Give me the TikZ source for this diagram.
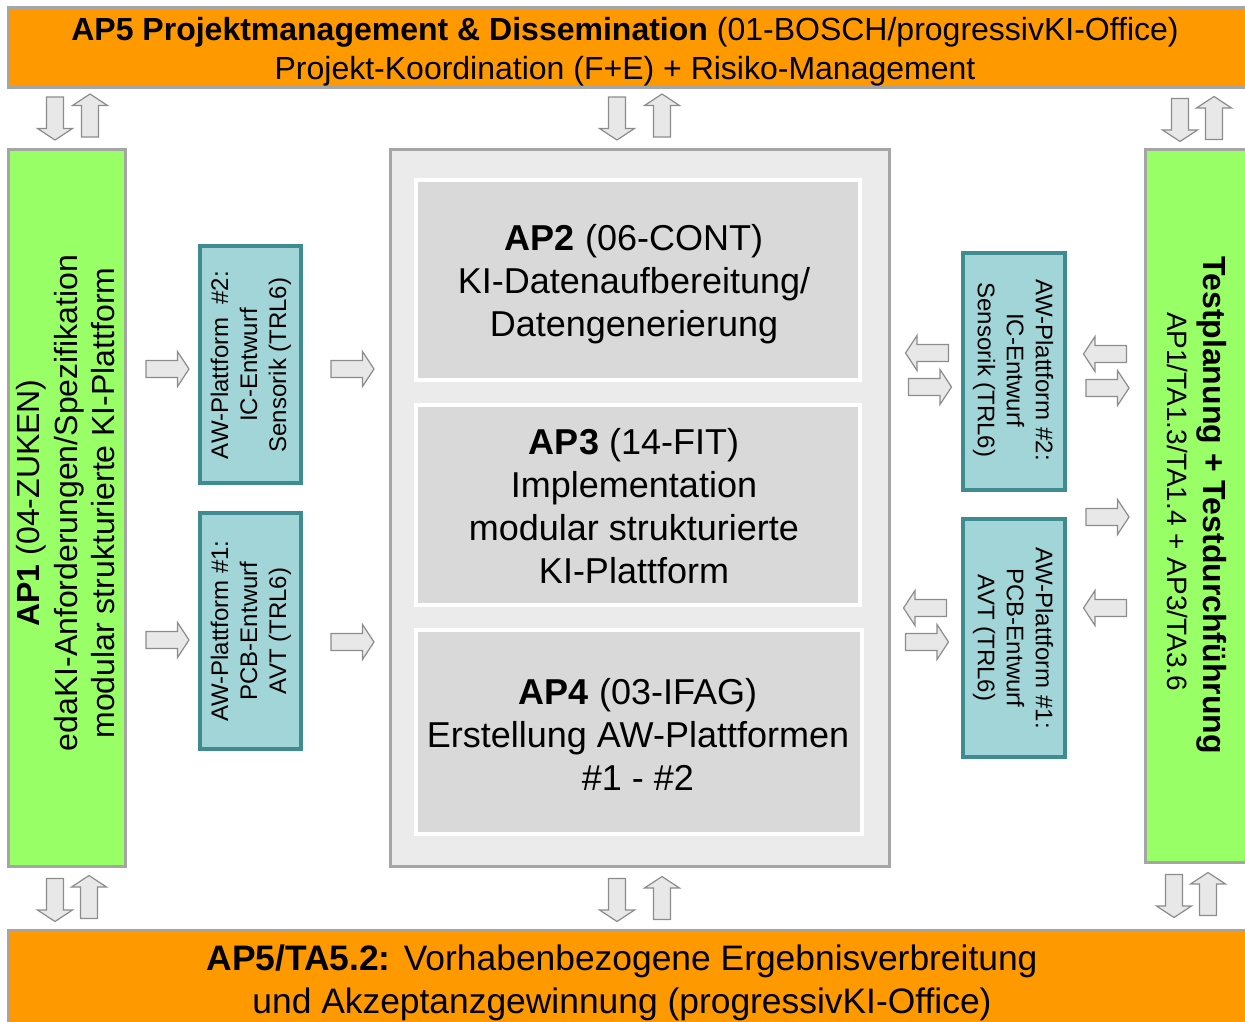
\documentclass[tikz,border=0pt]{standalone}
\usepackage{fontspec}
\setmainfont{Liberation Sans}
\definecolor{orangeB}{HTML}{FF9900}
\definecolor{greenB}{HTML}{99FF66}
\definecolor{panelG}{HTML}{EBEBEB}
\definecolor{boxG}{HTML}{D9D9D9}
\definecolor{tealF}{HTML}{A1D5D8}
\definecolor{tealD}{HTML}{3F8C90}
\definecolor{bordG}{HTML}{A5A5A5}
\definecolor{arrF}{HTML}{E8E8E8}
\definecolor{arrD}{HTML}{8C8C8C}
\newcommand\mkbox[6]{\node[#2, minimum width={(#5-#3)*0.5pt}, minimum height={(#6-#4)*0.5pt}] (#1) at ({(#3+#5)/2},{(#4+#6)/2}) {};}
\tikzset{
  base/.style={inner sep=0pt, outer sep=0pt, rectangle},
  bar/.style={base, fill=orangeB, draw=bordG, line width=1.5pt},
  greenbox/.style={base, fill=greenB, draw=bordG, line width=1.5pt},
  panel/.style={base, fill=panelG, draw=bordG, line width=1.5pt},
  apbox/.style={base, fill=boxG, draw=white, line width=2pt},
  awbox/.style={base, fill=tealF, draw=tealD, line width=2pt},
  txt/.style={align=center, inner sep=0pt},
  bigtxt/.style={txt, font=\fontsize{18}{21.5}\selectfont},
  awtxt/.style={txt, font=\fontsize{12}{14.5}\selectfont},
  arrowstyle/.style={fill=arrF, draw=arrD, line width=0.6pt, line join=miter},
  barrow/.pic={\path[arrowstyle] (-21.5,-8.5) -- (10,-8.5) -- (10,-17.5) -- (21.5,0) -- (10,17.5) -- (10,8.5) -- (-21.5,8.5) -- cycle;}
}
\begin{document}
\begin{tikzpicture}[x=0.5pt, y=-0.5pt]
\useasboundingbox (0,0) rectangle (1245,1021);
\clip (0,0) rectangle (1245,1021);
% bars
\mkbox{top}{bar}{8}{8}{1260}{88}
\node[txt, font=\fontsize{16}{19.5}\selectfont] (toptext) at (625,51.5) {\textbf{AP5 Projektmanagement \& Dissemination} (01-BOSCH/progressivKI-Office)\\Projekt-Koordination (F+E) + Risiko-Management};
\mkbox{bottom}{bar}{8}{930}{1260}{1040}
\node[txt, font=\fontsize{17.7}{21.5}\selectfont] (bottomtext) at (622,982.5) {\textbf{AP5/TA5.2:} Vorhabenbezogene Ergebnisverbreitung\\und Akzeptanzgewinnung (progressivKI-Office)};
% green side boxes
\mkbox{ap1}{greenbox}{8}{150}{125}{866}
\node[txt, rotate=90, font=\fontsize{16}{18.75}\selectfont] (ap1text) at (66,503) {\textbf{AP1} (04-ZUKEN)\\edaKI-Anforderungen/Spezifikation\\modular strukturierte KI-Plattform};
\mkbox{test}{greenbox}{1145}{150}{1260}{862}
\node[txt, rotate=-90, font=\fontsize{16}{18}\selectfont\bfseries] (testtext1) at (1212,505) {Testplanung + Testdurchführung};
\node[txt, rotate=-90, font=\fontsize{14}{17}\selectfont] (testtext2) at (1177,501.5) {AP1/TA1.3/TA1.4 + AP3/TA3.6};
% center panel
\mkbox{panel}{panel}{390}{150}{889}{866}
\mkbox{ap2}{apbox}{416}{180}{860}{380}
\node[bigtxt] (ap2text) at (634,284) {\textbf{AP2} (06-CONT)\\KI-Datenaufbereitung/\\Datengenerierung};
\mkbox{ap3}{apbox}{416}{405}{860}{605}
\node[bigtxt] (ap3text) at (634,506.5) {\textbf{AP3} (14-FIT)\\Implementation\\modular strukturierte\\KI-Plattform};
\mkbox{ap4}{apbox}{416}{630}{862}{834}
\node[bigtxt] (ap4text) at (638,734) {\textbf{AP4} (03-IFAG)\\Erstellung AW-Plattformen\\\#1 - \#2};
% teal boxes left
\mkbox{awL2}{awbox}{200}{246}{301}{483}
\node[awtxt, rotate=90] (awL2text) at (251,365) {AW-Plattform \ \#2:\\IC-Entwurf\\Sensorik (TRL6)};
\mkbox{awL1}{awbox}{200}{513}{301}{749}
\node[awtxt, rotate=90] (awL1text) at (251,631) {AW-Plattform \#1:\\PCB-Entwurf\\AVT (TRL6)};
% teal boxes right
\mkbox{awR2}{awbox}{963}{253}{1065}{490}
\node[awtxt, rotate=-90] (awR2text) at (1013,370) {AW-Plattform \#2:\\IC-Entwurf\\Sensorik (TRL6)};
\mkbox{awR1}{awbox}{963}{519}{1065}{757}
\node[awtxt, rotate=-90] (awR1text) at (1013,638) {AW-Plattform \#1:\\PCB-Entwurf\\AVT (TRL6)};
% vertical block arrows
\pic[rotate=-90] at (55,118.5) {barrow};
\pic[rotate=90] at (90,115.5) {barrow};
\pic[rotate=-90] at (617,118.5) {barrow};
\pic[rotate=90] at (662,115.5) {barrow};
\pic[rotate=-90] at (1180,120) {barrow};
\pic[rotate=90] at (1214,118) {barrow};
\pic[rotate=-90] at (55,900) {barrow};
\pic[rotate=90] at (89,897) {barrow};
\pic[rotate=-90] at (617,900) {barrow};
\pic[rotate=90] at (662,898) {barrow};
\pic[rotate=-90] at (1174,896) {barrow};
\pic[rotate=90] at (1208,894) {barrow};
% horizontal block arrows left
\pic at (167.5,369) {barrow};
\pic at (352.5,369) {barrow};
\pic at (167.5,640) {barrow};
\pic at (352.5,642) {barrow};
% right side
\pic[rotate=180] at (927,353) {barrow};
\pic at (930,387) {barrow};
\pic[rotate=180] at (1105,354) {barrow};
\pic at (1107.5,388) {barrow};
\pic at (1107.5,517) {barrow};
\pic[rotate=180] at (925,608) {barrow};
\pic at (927,642) {barrow};
\pic[rotate=180] at (1105,608) {barrow};
\end{tikzpicture}
\end{document}
